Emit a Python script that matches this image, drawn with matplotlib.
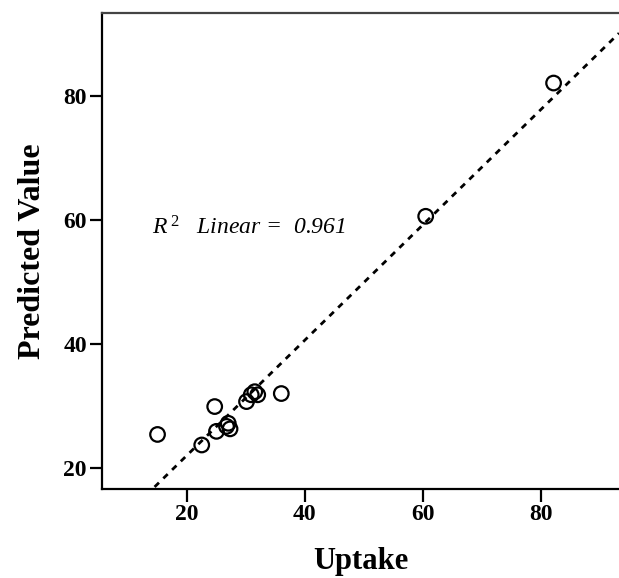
import numpy as np
import matplotlib
matplotlib.use("Agg")
import matplotlib.pyplot as plt

uptake = [82.2, 60.5, 15.0, 24.7, 22.5, 25.0, 26.7, 27.0, 27.3, 36.0, 30.9, 31.5, 30.1, 32.0]
predicted = [82.1, 60.6, 25.4, 29.9, 23.7, 25.9, 26.7, 27.2, 26.3, 32.0, 31.8, 32.3, 30.7, 31.8]
xticks = [20, 40, 60, 80]
yticks = [20, 40, 60, 80]
r2_text = "0.961"

plt.rcParams['mathtext.fontset'] = 'custom'
plt.rcParams['mathtext.it'] = 'Liberation Serif:italic'
plt.rcParams['mathtext.rm'] = 'Liberation Serif'

fig = plt.figure(figsize=(6.19, 5.78), dpi=100)
ax = fig.add_axes([0.165, 0.154, 0.835, 0.8235])

x = np.array(uptake)
y = np.array(predicted)
slope, intercept = np.polyfit(x, y, 1)
xlim = (5.6, 93.3)
ylim = (16.6, 93.4)
xs = np.array([xlim[0], xlim[1]])
ax.plot(xs, slope * xs + intercept, color='black', linestyle=(0, (2.2, 2.2)), lw=2, zorder=2)
ax.scatter(x, y, s=110, facecolors='none', edgecolors='black', linewidths=1.6, zorder=3)

ax.set_xlim(*xlim)
ax.set_ylim(*ylim)
ax.set_xticks(xticks)
ax.set_yticks(yticks)
ax.spines['right'].set_visible(False)
for s in ['left', 'bottom', 'top']:
    ax.spines[s].set_linewidth(1.6)
ax.spines['top'].set_color('#444444')
ax.tick_params(axis='both', length=9, width=1.6, labelsize=17, pad=2)
for lab in ax.get_xticklabels() + ax.get_yticklabels():
    lab.set_fontfamily('Liberation Serif')
    lab.set_fontweight('bold')

ax.set_xlabel('Uptake', fontsize=22, fontweight='bold', family='Liberation Serif', labelpad=16)
ax.set_ylabel('Predicted Value', fontsize=23, fontweight='bold', family='Liberation Serif', labelpad=12)

ax.text(14.0, 58.7, r"$R^{\,2}$   Linear =  " + r2_text, fontsize=17, fontstyle='italic',
        family='Liberation Serif', va='center', ha='left')

fig.savefig('out.png', dpi=100)
